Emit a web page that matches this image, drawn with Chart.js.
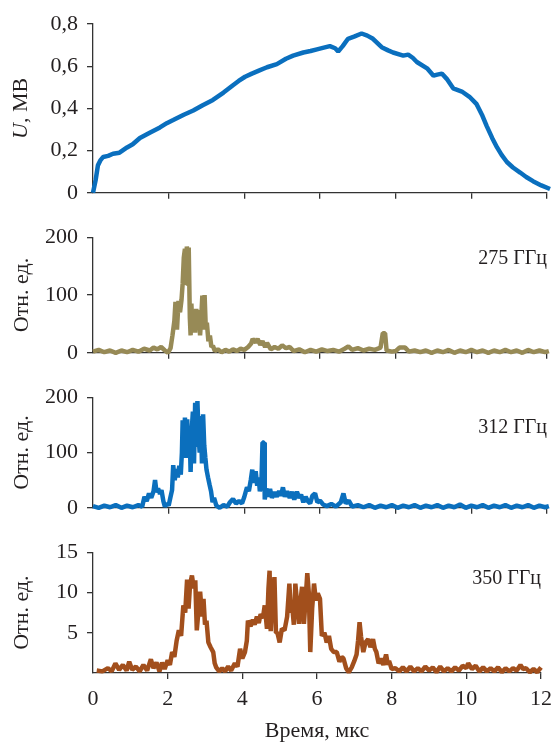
<!DOCTYPE html>
<html>
<head>
<meta charset="utf-8">
<script src="https://cdn.jsdelivr.net/npm/chart.js"></script>
<style>
  body { margin: 0; background: #fff; }
  #wrap { position: relative; width: 559px; height: 744px; }
  #wrap canvas { position: absolute; left: 0; }
</style>
</head>
<body>
<div id="wrap">
  <canvas id="c1" width="559" height="215" style="top:0"></canvas>
  <canvas id="c2" width="559" height="160" style="top:215px"></canvas>
  <canvas id="c3" width="559" height="155" style="top:375px"></canvas>
  <canvas id="c4" width="559" height="214" style="top:530px"></canvas>
</div>
<script>
// time (мкс) and value pairs
const voltage = [
  [0, 0], [0.07, 0.06], [0.13, 0.13], [0.2, 0.155], [0.27, 0.17], [0.4, 0.175], [0.53, 0.185],
  [0.7, 0.19], [0.9, 0.215], [1.05, 0.23], [1.24, 0.26], [1.5, 0.285], [1.77, 0.31],
  [1.95, 0.33], [2.12, 0.345], [2.4, 0.37], [2.65, 0.39], [2.9, 0.415], [3.17, 0.44],
  [3.45, 0.475], [3.7, 0.51], [3.85, 0.53], [4.02, 0.55], [4.2, 0.565], [4.4, 0.58],
  [4.6, 0.595], [4.86, 0.61], [5.1, 0.635], [5.29, 0.65], [5.56, 0.665], [5.75, 0.672],
  [5.92, 0.68], [6.1, 0.688], [6.26, 0.695], [6.4, 0.685], [6.48, 0.67], [6.6, 0.695],
  [6.74, 0.73], [6.9, 0.74], [7.1, 0.755], [7.25, 0.745], [7.4, 0.73], [7.63, 0.69],
  [7.8, 0.675], [7.93, 0.665], [8.2, 0.65], [8.33, 0.655], [8.45, 0.64], [8.56, 0.62],
  [8.83, 0.59], [9.0, 0.555], [9.1, 0.56], [9.22, 0.565], [9.35, 0.54], [9.52, 0.495],
  [9.75, 0.48], [9.95, 0.455], [10.14, 0.42], [10.28, 0.37], [10.41, 0.315],
  [10.55, 0.26], [10.68, 0.215], [10.8, 0.18], [10.94, 0.146], [11.1, 0.12],
  [11.29, 0.096], [11.45, 0.075], [11.63, 0.055], [11.85, 0.035], [12.08, 0.018]
];

const sig275 = [
  [0, 2], [0.15, 5], [0.3, 1], [0.45, 4], [0.6, 0], [0.75, 4], [0.9, 1], [1.05, 5], [1.2, 2],
  [1.35, 7], [1.5, 4], [1.6, 9], [1.7, 6], [1.8, 10], [1.9, 4], [1.98, 0], [2.05, 8],
  [2.1, 30], [2.15, 55], [2.18, 88], [2.22, 40], [2.26, 90], [2.3, 70], [2.34, 92],
  [2.37, 120], [2.4, 165], [2.43, 180], [2.46, 120], [2.48, 184], [2.51, 150], [2.53, 182],
  [2.56, 60], [2.58, 30], [2.6, 85], [2.63, 40], [2.66, 75], [2.7, 35], [2.73, 76],
  [2.76, 45], [2.8, 74], [2.83, 30], [2.86, 60], [2.89, 99], [2.92, 40], [2.95, 100],
  [2.98, 45], [3.01, 52], [3.05, 20], [3.09, 30], [3.13, 10], [3.17, 12], [3.22, 3],
  [3.3, 6], [3.4, 1], [3.5, 5], [3.6, 2], [3.7, 6], [3.8, 3], [3.9, 7], [4.0, 5], [4.1, 10],
  [4.18, 16], [4.22, 24], [4.3, 18], [4.35, 24], [4.42, 14], [4.48, 20], [4.55, 10],
  [4.6, 17], [4.7, 6], [4.8, 10], [4.9, 7], [5.0, 13], [5.1, 8], [5.2, 10], [5.3, 3],
  [5.45, 6], [5.6, 1], [5.75, 5], [5.9, 2], [6.05, 6], [6.2, 3], [6.35, 5], [6.5, 2],
  [6.65, 7], [6.75, 11], [6.85, 5], [7.0, 8], [7.15, 4], [7.3, 7], [7.45, 5], [7.6, 9],
  [7.66, 34], [7.72, 34], [7.76, 4], [7.9, 2], [8.0, 3], [8.1, 9], [8.25, 9], [8.35, 2],
  [8.5, 4], [8.65, 1], [8.8, 4], [8.95, 0], [9.1, 4], [9.25, 1], [9.4, 5], [9.55, 0],
  [9.7, 4], [9.85, 1], [10.0, 5], [10.15, 1], [10.3, 4], [10.45, 0], [10.6, 4], [10.75, 1],
  [10.9, 5], [11.05, 1], [11.2, 4], [11.35, 0], [11.5, 5], [11.65, 1], [11.8, 4],
  [11.95, 1], [12.05, 3]
];

const sig312 = [
  [0, 3], [0.15, 0], [0.3, 4], [0.45, 1], [0.6, 5], [0.75, 0], [0.9, 4], [1.05, 1], [1.2, 5],
  [1.3, 2], [1.36, 20], [1.42, 12], [1.48, 26], [1.54, 18], [1.6, 30], [1.64, 50],
  [1.68, 28], [1.72, 35], [1.77, 25], [1.81, 32], [1.86, 12], [1.9, 2], [1.95, 8], [2.0, 4],
  [2.05, 20], [2.09, 32], [2.12, 77], [2.16, 50], [2.2, 70], [2.24, 55], [2.28, 76],
  [2.32, 60], [2.35, 100], [2.37, 158], [2.4, 95], [2.43, 163], [2.46, 90], [2.49, 160],
  [2.52, 110], [2.55, 148], [2.58, 65], [2.61, 140], [2.64, 174], [2.67, 80], [2.7, 190],
  [2.73, 110], [2.76, 193], [2.79, 130], [2.82, 100], [2.85, 166], [2.88, 80], [2.91, 169],
  [2.94, 113], [2.97, 90], [3.0, 69], [3.04, 55], [3.08, 42], [3.12, 30], [3.16, 10],
  [3.2, 18], [3.26, 4], [3.35, 0], [3.45, 5], [3.55, 2], [3.62, 10], [3.7, 16], [3.78, 8],
  [3.86, 12], [3.94, 8], [4.0, 20], [4.07, 37], [4.12, 30], [4.17, 50], [4.21, 69],
  [4.25, 45], [4.3, 66], [4.34, 40], [4.38, 55], [4.41, 30], [4.45, 40], [4.48, 118],
  [4.52, 118], [4.54, 15], [4.58, 35], [4.63, 20], [4.68, 34], [4.73, 18], [4.8, 28],
  [4.86, 20], [4.92, 30], [4.97, 22], [5.02, 37], [5.07, 20], [5.13, 30], [5.2, 18],
  [5.26, 29], [5.32, 15], [5.39, 29], [5.45, 18], [5.5, 24], [5.56, 10], [5.62, 20],
  [5.68, 12], [5.74, 8], [5.8, 22], [5.87, 26], [5.93, 10], [6.0, 13], [6.08, 6], [6.18, 3],
  [6.3, 7], [6.42, 2], [6.55, 10], [6.62, 26], [6.68, 8], [6.76, 13], [6.85, 2], [7.0, 5],
  [7.15, 1], [7.3, 5], [7.45, 0], [7.6, 4], [7.75, 1], [7.9, 5], [8.05, 0], [8.2, 4],
  [8.35, 1], [8.5, 5], [8.65, 0], [8.8, 4], [8.95, 1], [9.1, 5], [9.25, 0], [9.4, 4],
  [9.55, 1], [9.7, 6], [9.85, 0], [10.0, 4], [10.15, 1], [10.3, 5], [10.45, 0], [10.6, 4],
  [10.75, 1], [10.9, 5], [11.05, 0], [11.2, 4], [11.35, 1], [11.5, 5], [11.65, 0],
  [11.8, 4], [11.95, 1], [12.05, 3]
];

const sig350 = [
  [0.1, 0.3], [0.25, 0.2], [0.4, 0.6], [0.5, 0.2], [0.6, 1.2], [0.7, 0.4], [0.8, 1.0],
  [0.9, 0.3], [0.97, 1.4], [1.05, 0.4], [1.15, 0.8], [1.25, 0.2], [1.35, 1.0], [1.45, 0.3],
  [1.55, 1.7], [1.62, 0.6], [1.7, 1.3], [1.78, 0.2], [1.85, 1.3], [1.92, 0.5], [2.0, 1.6],
  [2.06, 1.0], [2.12, 2.6], [2.18, 2.0], [2.24, 4.0], [2.3, 5.3], [2.36, 4.6], [2.42, 8.4],
  [2.47, 7.5], [2.52, 11.6], [2.56, 8.0], [2.6, 11.0], [2.65, 12.1], [2.7, 10.5],
  [2.74, 11.5], [2.78, 5.3], [2.83, 8.0], [2.87, 10.1], [2.92, 7.0], [2.96, 9.2], [3.0, 6.0],
  [3.04, 6.5], [3.09, 3.8], [3.15, 3.2], [3.22, 2.6], [3.26, 1.2], [3.3, 0.7], [3.38, 0.2],
  [3.46, 0.6], [3.54, 0.2], [3.62, 0.8], [3.7, 0.3], [3.8, 1.2], [3.87, 0.8], [3.94, 3.0],
  [4.0, 1.8], [4.07, 2.6], [4.12, 4.0], [4.15, 6.5], [4.22, 5.8], [4.28, 6.6], [4.33, 6.0],
  [4.39, 7.0], [4.44, 6.2], [4.49, 7.3], [4.55, 6.8], [4.6, 8.4], [4.66, 5.5], [4.7, 10.5],
  [4.73, 12.7], [4.76, 5.2], [4.8, 9.0], [4.86, 11.9], [4.9, 5.0], [4.94, 5.0], [5.0, 3.8],
  [5.06, 5.5], [5.13, 5.3], [5.2, 7.0], [5.26, 11.1], [5.3, 7.5], [5.34, 8.1], [5.38, 6.0],
  [5.42, 11.1], [5.47, 8.5], [5.52, 6.1], [5.56, 9.0], [5.6, 10.7], [5.65, 6.1], [5.7, 9.5],
  [5.74, 12.4], [5.78, 10.0], [5.82, 2.6], [5.87, 8.0], [5.92, 11.1], [5.97, 9.0],
  [6.02, 9.9], [6.08, 9.2], [6.13, 4.6], [6.2, 5.0], [6.26, 3.8], [6.32, 4.6], [6.38, 3.0],
  [6.45, 2.6], [6.53, 2.6], [6.6, 1.4], [6.66, 2.0], [6.71, 1.8], [6.78, 0.6], [6.85, 0.1],
  [6.93, 0.7], [7.0, 1.5], [7.06, 2.3], [7.1, 4.0], [7.14, 6.3], [7.18, 4.5], [7.24, 2.6],
  [7.3, 3.8], [7.37, 4.2], [7.43, 3.2], [7.5, 4.2], [7.55, 3.0], [7.59, 2.6], [7.65, 1.2],
  [7.72, 1.8], [7.78, 1.0], [7.85, 2.3], [7.9, 1.0], [7.93, 1.5], [8.0, 0.5], [8.1, 0.6],
  [8.2, 0.2], [8.3, 0.7], [8.4, 0.2], [8.5, 0.8], [8.6, 0.2], [8.7, 0.6], [8.8, 0.2],
  [8.9, 0.8], [9.0, 0.3], [9.1, 0.7], [9.2, 0.1], [9.3, 0.8], [9.4, 0.2], [9.5, 0.6],
  [9.6, 0.2], [9.7, 0.7], [9.8, 0.3], [9.9, 0.9], [10.0, 0.6], [10.05, 1.2], [10.15, 0.5],
  [10.25, 0.9], [10.35, 0.2], [10.45, 0.7], [10.55, 0.2], [10.65, 0.6], [10.75, 0.2],
  [10.85, 0.7], [10.95, 0.1], [11.05, 0.6], [11.15, 0.2], [11.25, 0.6], [11.35, 0.3],
  [11.45, 1.0], [11.52, 0.5], [11.6, 0.6], [11.7, 0.1], [11.8, 0.5], [11.9, 0.1],
  [12.0, 0.7], [12.08, 0.3]
];

const xTicks = [0, 2, 4, 6, 8, 10, 12];
const labels = ['275 ГГц', '312 ГГц', '350 ГГц'];

const FONT = '"Times New Roman", Times, "Liberation Serif", Tinos, serif';
const INK = '#231f20';
const AXIS = '#333';

// rotated y title, parts may be italic
const yTitlePlugin = {
  id: 'yTitle',
  afterDraw(chart, args, opts) {
    if (!opts.parts) return;
    const ctx = chart.ctx;
    const a = chart.chartArea;
    const cy = (a.top + a.bottom) / 2;
    ctx.save();
    ctx.translate(opts.x, cy);
    ctx.rotate(-Math.PI / 2);
    ctx.fillStyle = INK;
    ctx.textBaseline = 'middle';
    ctx.textAlign = 'left';
    let total = 0;
    opts.parts.forEach(p => {
      ctx.font = (p.italic ? 'italic ' : '') + opts.size + 'px ' + FONT;
      p.w = ctx.measureText(p.t).width;
      total += p.w;
    });
    let x = -total / 2;
    opts.parts.forEach(p => {
      ctx.font = (p.italic ? 'italic ' : '') + opts.size + 'px ' + FONT;
      ctx.fillText(p.t, x, 0);
      x += p.w;
    });
    ctx.restore();
  }
};

const cornerLabel = {
  id: 'cornerLabel',
  afterDraw(chart, args, opts) {
    if (!opts.text) return;
    const ctx = chart.ctx;
    ctx.save();
    ctx.font = '20px ' + FONT;
    ctx.fillStyle = INK;
    ctx.textAlign = 'right';
    ctx.textBaseline = 'middle';
    ctx.fillText(opts.text, chart.chartArea.right, chart.chartArea.top + opts.dy);
    ctx.restore();
  }
};

function tickColor(c) {
  return c.tick && c.tick.value === 0 ? 'rgba(0,0,0,0)' : AXIS;
}

function makePanel(id, series, color, width, y, padTop, xHeight, showX, extra) {
  return new Chart(document.getElementById(id), {
    type: 'line',
    data: {
      datasets: [{
        data: series.map(p => ({ x: p[0], y: p[1] })),
        borderColor: color,
        borderWidth: width,
        borderJoinStyle: 'bevel',
        pointRadius: 0,
        tension: 0,
        clip: 6
      }]
    },
    options: {
      responsive: false,
      animation: false,
      layout: { padding: { left: 0, right: 12, top: padTop, bottom: 0 } },
      plugins: {
        legend: { display: false },
        tooltip: { enabled: false },
        yTitle: extra.yTitle,
        cornerLabel: extra.corner
      },
      scales: {
        x: {
          type: 'linear',
          min: 0,
          max: 12,
          afterBuildTicks: s => { s.ticks = xTicks.map(v => ({ value: v })); },
          afterFit: s => { s.height = xHeight; },
          border: { display: true, color: AXIS, width: 1.3 },
          grid: { drawOnChartArea: false, drawTicks: true, tickLength: 6, color: tickColor, lineWidth: 1.3 },
          ticks: {
            display: showX,
            padding: 7,
            color: INK,
            font: { family: FONT, size: 22 }
          },
          title: {
            display: showX,
            text: 'Время, мкс',
            color: INK,
            font: { family: FONT, size: 22 },
            padding: { top: 2, bottom: 0 }
          }
        },
        y: {
          min: y.min,
          max: y.max,
          afterBuildTicks: s => { s.ticks = y.ticks.map(v => ({ value: v })); },
          afterFit: s => { s.width = 93; },
          border: { display: true, color: AXIS, width: 1.3 },
          grid: { drawOnChartArea: false, drawTicks: true, tickLength: 6, color: y.hideZero ? tickColor : AXIS, lineWidth: 1.3 },
          ticks: {
            padding: 9,
            color: INK,
            font: { family: FONT, size: 22 },
            callback: y.fmt
          }
        }
      }
    },
    plugins: [yTitlePlugin, cornerLabel]
  });
}

const comma = v => String(+v.toFixed(1)).replace('.', ',');
const plain = v => String(v);
const ttl = { x: 22, size: 22, parts: [{ t: 'Отн. ед.' }] };

makePanel('c1', voltage, '#0a6fbe', 4.5,
  { min: 0, max: 0.8, ticks: [0, 0.2, 0.4, 0.6, 0.8], fmt: comma }, 24, 16, false,
  { yTitle: { x: 21, size: 22, parts: [{ t: 'U', italic: true }, { t: ', МВ' }] }, corner: {} });

makePanel('c2', sig275, '#978a56', 4.5,
  { min: 0, max: 200, ticks: [0, 100, 200], fmt: plain }, 20, 17, false,
  { yTitle: ttl, corner: { text: labels[0], dy: 22 } });

makePanel('c3', sig312, '#0b6fbd', 4.5,
  { min: 0, max: 200, ticks: [0, 100, 200], fmt: plain }, 14, 17, false,
  { yTitle: ttl, corner: { text: labels[1], dy: 31 } });

makePanel('c4', sig350, '#a24f1c', 4.5,
  { min: 0, max: 15, ticks: [0, 5, 10, 15], fmt: v => v === 0 ? '' : String(v), hideZero: true }, 13, 71, true,
  { yTitle: ttl, corner: { text: labels[2], dy: 27 } });
</script>
</body>
</html>
